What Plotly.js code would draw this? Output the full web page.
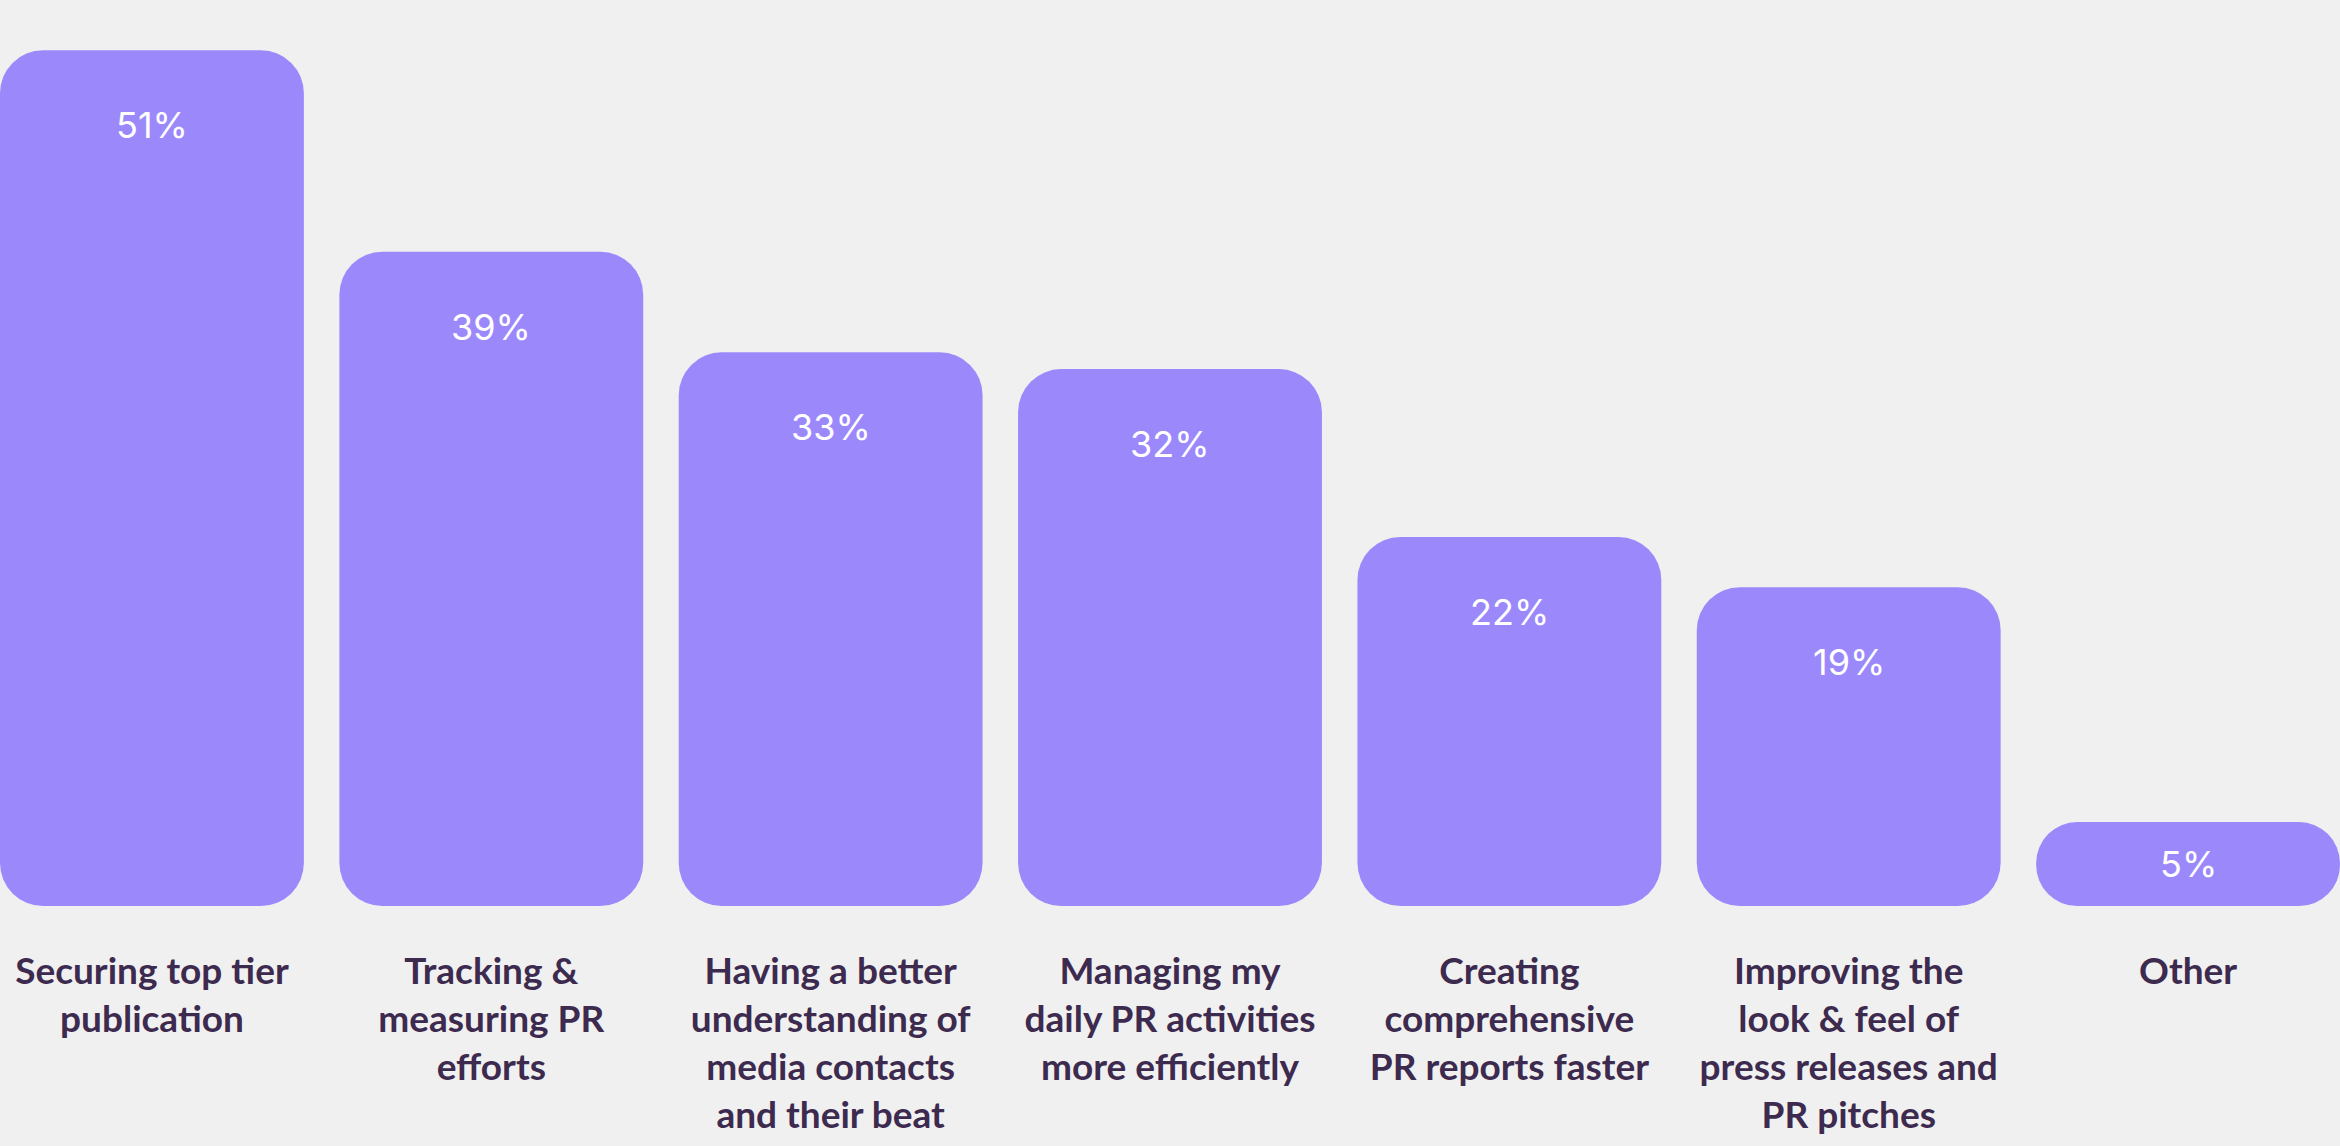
<!DOCTYPE html>
<html>
<head>
<meta charset="utf-8">
<script src="https://cdn.plot.ly/plotly-3.0.1.min.js"></script>
<style>
html,body{margin:0;padding:0;background:#f0f0f0;}
#chart{width:2340px;height:1146px;}
</style>
</head>
<body>
<div id="chart"></div>
<script>
const categories = [
  "Securing top tier<br>publication",
  "Tracking &<br>measuring PR<br>efforts",
  "Having a better<br>understanding of<br>media contacts<br>and their beat",
  "Managing my<br>daily PR activities<br>more efficiently",
  "Creating<br>comprehensive<br>PR reports faster",
  "Improving the<br>look & feel of<br>press releases and<br>PR pitches",
  "Other"
];
const values = [51, 39, 33, 32, 22, 19, 5];
const valueLabels = values.map(v => v + "%");

const yMax = 54;
const plotHeight = 906;
const barColor = "#9b89fb";

const bars = {
  type: "bar",
  x: categories,
  y: values,
  base: values.map(() => 0),
  width: 0.8954,
  marker: {color: barColor, cornerradius: 43, line: {width: 0}},
  hoverinfo: "skip"
};

const annotations = values.map((v, i) => ({
  x: categories[i],
  y: v,
  xref: "x",
  yref: "y",
  text: valueLabels[i],
  showarrow: false,
  yanchor: "middle",
  yshift: -Math.min(75, v * plotHeight / yMax / 2),
  font: {family: "Inter, sans-serif", size: 36, color: "#ffffff"}
}));

const layout = {
  width: 2340,
  height: 1146,
  margin: {l: 0, r: 0, t: 0, b: 240, pad: 0},
  paper_bgcolor: "#f0f0f0",
  plot_bgcolor: "#f0f0f0",
  showlegend: false,
  xaxis: {
    type: "category",
    range: [-0.4477, 6.4477],
    showgrid: false,
    zeroline: false,
    showline: false,
    ticks: "",
    ticklabelstandoff: 40,
    tickfont: {family: "Lato, sans-serif", size: 37, color: "#3d2a4f", weight: 700}
  },
  yaxis: {
    range: [0, yMax],
    visible: false,
    showgrid: false,
    zeroline: false
  },
  annotations: annotations
};

Plotly.newPlot("chart", [bars], layout, {displayModeBar: false, staticPlot: true});
</script>
</body>
</html>
